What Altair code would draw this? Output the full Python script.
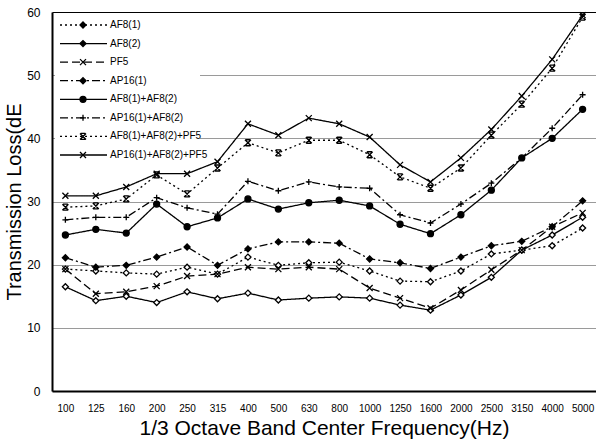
import altair as alt
import pandas as pd

# 1/3 octave band centre frequencies (Hz)
freqs = ["100", "125", "160", "200", "250", "315", "400", "500", "630", "800",
         "1000", "1250", "1600", "2000", "2500", "3150", "4000", "5000"]

# Transmission loss per configuration
af8_1 = [19.3, 19.0, 18.7, 18.5, 19.6, 18.5, 21.2, 19.9, 20.3, 20.4, 19.0, 17.4, 17.3, 19.0, 21.7, 22.3, 23.0, 25.8]
af8_2 = [16.5, 14.3, 15.0, 14.0, 15.7, 14.6, 15.5, 14.4, 14.7, 14.9, 14.7, 13.6, 12.8, 15.2, 18.0, 22.3, 24.7, 27.5]
pf5 = [19.3, 15.4, 15.7, 16.6, 18.2, 18.5, 19.6, 19.3, 19.6, 19.3, 16.3, 14.7, 13.1, 16.0, 19.2, 22.3, 26.0, 28.2]
ap16_1 = [21.1, 19.6, 19.9, 21.2, 22.8, 19.9, 22.5, 23.6, 23.6, 23.4, 20.9, 20.3, 19.4, 21.2, 23.0, 23.7, 26.0, 30.1]
af8_af8 = [24.7, 25.6, 25.0, 29.6, 26.0, 27.4, 30.4, 28.8, 29.8, 30.2, 29.3, 26.4, 24.9, 27.9, 31.8, 36.9, 40.0, 44.6]
ap16_af8 = [27.1, 27.5, 27.5, 30.6, 29.0, 28.0, 33.2, 31.7, 33.1, 32.3, 32.1, 27.9, 26.6, 29.6, 32.9, 36.9, 41.6, 46.9]
af8_af8_pf5 = [29.1, 29.3, 30.4, 34.2, 31.2, 35.3, 39.3, 37.7, 39.7, 39.7, 37.4, 33.9, 32.1, 35.3, 40.5, 45.4, 51.1, 59.2]
ap16_af8_pf5 = [30.9, 30.9, 32.3, 34.4, 34.4, 36.3, 42.3, 40.5, 43.2, 42.3, 40.2, 35.8, 33.1, 36.9, 41.4, 46.7, 52.5, 59.5]

series_names = ["AF8(1)", "AF8(2)", "PF5", "AP16(1)", "AF8(1)+AF8(2)",
                "AP16(1)+AF8(2)", "AF8(1)+AF8(2)+PF5", "AP16(1)+AF8(2)+PF5"]
series_values = [af8_1, af8_2, pf5, ap16_1, af8_af8, ap16_af8, af8_af8_pf5, ap16_af8_pf5]

# Line and marker styles per series
dashes = [[2, 3], [1, 0], [8, 4], [8, 3, 2, 3], [1, 0], [8, 3, 2, 3], [2, 3], [1, 0]]
X_PATH = "M-1,-1L1,1M1,-1L-1,1"
PLUS_PATH = "M-1,0H1M0,-1V1"
HOURGLASS_PATH = "M-1,-1L1,1M1,-1L-1,1M-0.8,-1H0.8M-0.8,1H0.8"
shapes = ["diamond", "diamond", X_PATH, "diamond", "circle", PLUS_PATH, HOURGLASS_PATH, X_PATH]
fills = ["white", "white", "black", "black", "black", "black", "black", "black"]
legend_fills = ["black", "black", "black", "black", "black", "black", "black", "black"]
sizes = [36, 36, 70, 40, 64, 90, 70, 80]

rows = []
for name, vals in zip(series_names, series_values):
    for f, v in zip(freqs, vals):
        rows.append({"freq": f, "tl": v, "series": name})
df = pd.DataFrame(rows)

legend_df = pd.DataFrame({"series": series_names, "order": list(range(len(series_names)))})

W, H = 544, 379
FONT = "Liberation Sans"

x_enc = alt.X("freq:N", sort=freqs,
              scale=alt.Scale(type="point", padding=0.44),
              axis=alt.Axis(title="1/3 Octave Band Center Frequency(Hz)", labelAngle=0,
                            ticks=False, labelPadding=12, labelFontSize=10,
                            titleFontSize=21, titleFontWeight="normal", titlePadding=4,
                            domainColor="black", domainWidth=2, grid=False,
                            labelFont=FONT, titleFont=FONT, labelColor="black",
                            titleColor="black"))
y_enc = alt.Y("tl:Q", scale=alt.Scale(domain=[0, 60], nice=False),
              axis=alt.Axis(title="Transmission Loss(dE", values=[0, 10, 20, 30, 40, 50, 60],
                            ticks=False, labelPadding=12, labelFontSize=12,
                            titleFontSize=20, titleFontWeight="normal", titlePadding=2,
                            domainColor="black", domainWidth=2,
                            grid=True, gridWidth=1.2,
                            gridColor=alt.condition("datum.value == 60", alt.value("black"), alt.value("#9a9a9a")),
                            labelFont=FONT, titleFont=FONT, labelColor="black",
                            titleColor="black"))

dash_scale = alt.Scale(domain=series_names, range=dashes)
shape_scale = alt.Scale(domain=series_names, range=shapes)
fill_scale = alt.Scale(domain=series_names, range=fills)
size_scale = alt.Scale(domain=series_names, range=sizes)

lines = alt.Chart(df).mark_line(color="black", strokeWidth=1.3).encode(
    x=x_enc, y=y_enc,
    strokeDash=alt.StrokeDash("series:N", scale=dash_scale, legend=None),
    detail="series:N",
)
points = alt.Chart(df).mark_point(filled=True, stroke="black", strokeWidth=1.3, opacity=1).encode(
    x=x_enc, y=y_enc,
    shape=alt.Shape("series:N", scale=shape_scale, legend=None),
    fill=alt.Fill("series:N", scale=fill_scale, legend=None),
    size=alt.Size("series:N", scale=size_scale, legend=None),
)

data_layer = alt.layer(lines, points)

# Legend box in the upper-left corner of the plot
ly = alt.Y("order:O", axis=None, scale=alt.Scale(type="point", range=[13, 143], padding=0))
legend_bg = alt.Chart(pd.DataFrame({"a": [0]})).mark_rect(fill="white", stroke=None).encode(
    x=alt.value(3), x2=alt.value(148), y=alt.value(2), y2=alt.value(152))
legend_lines = alt.Chart(legend_df).mark_rule(color="black", strokeWidth=1.3).encode(
    y=ly, x=alt.value(8), x2=alt.value(55),
    strokeDash=alt.StrokeDash("series:N", scale=dash_scale, legend=None))
legend_pts = alt.Chart(legend_df).mark_point(filled=True, stroke="black", strokeWidth=1.3, opacity=1).encode(
    y=ly, x=alt.value(31),
    shape=alt.Shape("series:N", scale=shape_scale, legend=None),
    fill=alt.Fill("series:N", scale=alt.Scale(domain=series_names, range=legend_fills), legend=None),
    size=alt.Size("series:N", scale=size_scale, legend=None))
legend_txt = alt.Chart(legend_df).mark_text(align="left", baseline="middle", fontSize=10,
                                            font=FONT, color="black").encode(
    y=ly, x=alt.value(58), text="series:N")
legend_layer = alt.layer(legend_bg, legend_lines, legend_pts, legend_txt)

chart = alt.layer(data_layer, legend_layer).resolve_scale(
    y="independent", shape="independent", fill="independent", strokeDash="independent", size="independent"
).properties(
    width=W, height=H,
    autosize=alt.AutoSizeParams(type="none"),
    padding={"left": 52, "top": 12, "right": 0, "bottom": 50},
    background="white",
).configure_view(stroke=None)

chart.save("out.html", embed_options={"renderer": "svg", "actions": False})
